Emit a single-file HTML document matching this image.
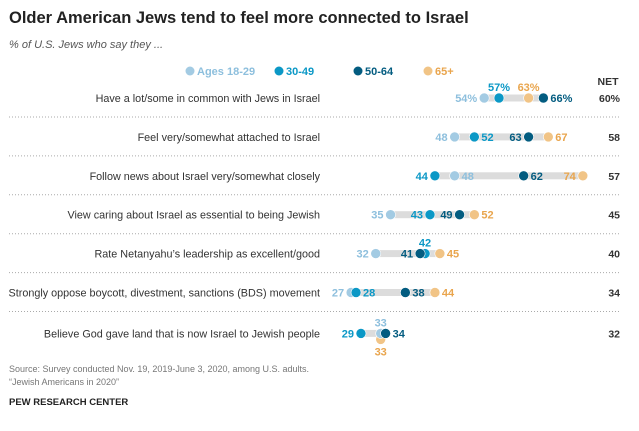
<!DOCTYPE html>
<html><head><meta charset="utf-8">
<style>
body{margin:0;background:#fff;font-family:"Liberation Sans",sans-serif;}
#c{position:relative;width:639px;height:426px;}
</style></head>
<body><div id="c">
<svg id="s" width="639" height="426" xmlns="http://www.w3.org/2000/svg" font-family="Liberation Sans, sans-serif">
<text x="9" y="23" font-size="16.5" font-weight="bold" fill="#222">Older American Jews tend to feel more connected to Israel</text>
<text x="9" y="48" font-size="11" font-style="italic" fill="#555">% of U.S. Jews who say they ...</text>
<text x="608" y="85" font-size="10.5" font-weight="bold" fill="#333" text-anchor="middle">NET</text>
<text x="9" y="372" font-size="9" fill="#777">Source: Survey conducted Nov. 19, 2019-June 3, 2020, among U.S. adults.</text>
<text x="9" y="385" font-size="9" fill="#777">“Jewish Americans in 2020”</text>
<text x="9" y="405" font-size="9.5" font-weight="bold" fill="#222">PEW RESEARCH CENTER</text>
</svg>
<script>
const categories=["Have a lot/some in common with Jews in Israel","Feel very/somewhat attached to Israel","Follow news about Israel very/somewhat closely","View caring about Israel as essential to being Jewish","Rate Netanyahu’s leadership as excellent/good","Strongly oppose boycott, divestment, sanctions (BDS) movement","Believe God gave land that is now Israel to Jewish people"];
const seriesNames=["Ages 18-29","30-49","50-64","65+"];
const age1829=[54,48,48,35,32,27,33];
const age3049=[57,52,44,43,42,28,29];
const age5064=[66,63,62,49,41,38,34];
const age65=[63,67,74,52,45,44,33];
const netValues=[60,58,57,45,40,34,32];
const labelSides=[["l","t","r","t"],["l","r","l","r"],["r","l","r","l"],["l","l","l","r"],["l","t","l","r"],["l","r","r","r"],["t","l","r","b"]];
const series=[age1829,age3049,age5064,age65];
const dotColors=["#a3cbe3","#0b98c6","#035c80","#f1c486"];
const textColors=["#8dbfdd","#0b98c6","#035c80","#e9a54d"];
const NS="http://www.w3.org/2000/svg";
const svg=document.getElementById('s');
const xs=v=>218+4.93*v;
const ys=i=>98+38.9*i;
function mk(t,a){const e=document.createElementNS(NS,t);for(const k in a)e.setAttribute(k,a[k]);svg.appendChild(e);return e;}
const lx=[190,279,358,428];
seriesNames.forEach((n,j)=>{
 const c=mk('circle',{cx:lx[j],cy:71,r:4.5,fill:dotColors[j]});
 
 
 const t=mk('text',{x:lx[j]+7,y:75,'font-size':11,'font-weight':'bold',fill:textColors[j]});
 t.textContent=n;
 
 
});
categories.forEach((cat,i)=>{
 const y=ys(i);
 const yl=i===6?y+2:y;
 const t=mk('text',{x:320,y:yl+4,'font-size':10.8,fill:'#333','text-anchor':'end'});
 t.textContent=cat;
 
 
 const n=mk('text',{x:620,y:yl+4,'font-size':10.5,'font-weight':'bold',fill:'#333','text-anchor':'end'});
 n.textContent=netValues[i]+(i===0?'%':'');
 
 
 if(i<6){const l=mk('line',{x1:9,x2:620,y1:y+19,y2:y+19,stroke:'#aaa','stroke-dasharray':'1,2','stroke-width':1});
 
 }
 const vals=series.map(s=>s[i]);
 const lo=Math.min(...vals),hi=Math.max(...vals);
 const tr=mk('rect',{x:xs(lo),y:yl-3.5,width:xs(hi)-xs(lo),height:7,fill:'#dcdcdc'});
 
 
 [3,0,1,2].forEach(j=>{
  const v=series[j][i];const side=labelSides[i][j];
  let cy=yl; if(side==='b') cy=yl+6;
  const c=mk('circle',{cx:xs(v),cy:cy,r:5,fill:dotColors[j],stroke:'#fff','stroke-width':0.6});
  
  
  let tx=xs(v),ty=yl+4,anc='middle';
  if(side==='l'){tx=xs(v)-7;anc='end';}
  else if(side==='r'){tx=xs(v)+7;anc='start';}
  else if(side==='t'){ty=yl-7;}
  else if(side==='b'){ty=yl+22;}
  const lt=mk('text',{x:tx,y:ty,'font-size':11,'font-weight':'bold',fill:textColors[j],'text-anchor':anc});
  lt.textContent=v+(i===0?'%':'');
  
  
 });
});
</script>
</div></body></html>
